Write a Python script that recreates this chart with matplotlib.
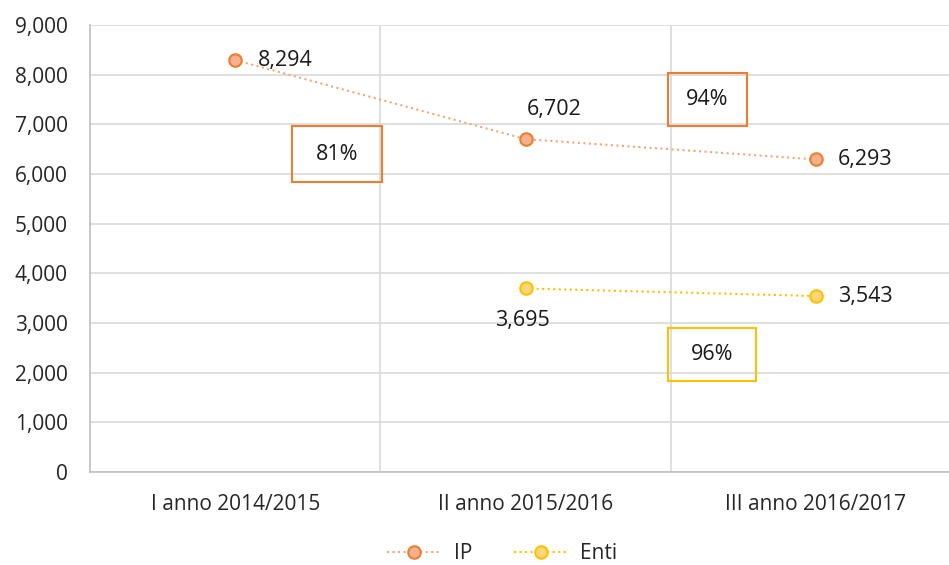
import numpy as np
import matplotlib.pyplot as plt
from matplotlib.patches import Rectangle
from matplotlib.ticker import FuncFormatter

plt.rcParams['font.family'] = ['Open Sans', 'DejaVu Sans']

categories = ['I anno 2014/2015', 'II anno 2015/2016', 'III anno 2016/2017']
ip = [8294, 6702, 6293]
enti = [np.nan, 3695, 3543]
pct_labels = ['81%', '94%', '96%']

fig = plt.figure(figsize=(9.49, 5.65), dpi=100)
ax = fig.add_axes([90 / 949, 93 / 565, 1 - 90 / 949, 447 / 565])

x = np.arange(len(categories))
ax.plot(x, ip, linestyle=':', color='#f4a57a', linewidth=1.5, marker='o',
        markersize=9, markerfacecolor='#f5b08e', markeredgecolor='#ed7d31',
        markeredgewidth=1.5, label='IP', zorder=3)
ax.plot(x, enti, linestyle=':', color='#ffc000', linewidth=1.5, marker='o',
        markersize=9, markerfacecolor='#ffd77a', markeredgecolor='#ffc000',
        markeredgewidth=1.5, label='Enti', zorder=3)

# data labels
fs = 15.5
tc = '#1a1a1a'
ax.annotate(f'{ip[0]:,}', (x[0], ip[0]), xytext=(16, 0), textcoords='offset points',
            ha='left', va='center', fontsize=fs, color=tc)
ax.annotate(f'{ip[1]:,}', (x[1], ip[1]), xytext=(1, 21), textcoords='offset points',
            ha='left', va='center', fontsize=fs, color=tc)
ax.annotate(f'{ip[2]:,}', (x[2], ip[2]), xytext=(16, 0), textcoords='offset points',
            ha='left', va='center', fontsize=fs, color=tc)
ax.annotate(f'{enti[1]:,}', (x[1], enti[1]), xytext=(-2, -23), textcoords='offset points',
            ha='center', va='center', fontsize=fs, color=tc)
ax.annotate(f'{enti[2]:,}', (x[2], enti[2]), xytext=(16, 0), textcoords='offset points',
            ha='left', va='center', fontsize=fs, color=tc)

# percentage boxes
boxes = [((0.196, 5838), 0.310, 1128, '#ed7d31'),
         ((1.489, 6966), 0.275, 1067, '#ed7d31'),
         ((1.492, 1832), 0.300, 1067, '#ffc000')]
for (xy, w, h, c), lab in zip(boxes, pct_labels):
    ax.add_patch(Rectangle(xy, w, h, fill=False, edgecolor=c, linewidth=1.5, zorder=4))
    ax.text(xy[0] + w / 2, xy[1] + h / 2, lab, ha='center', va='center',
            fontsize=fs, color=tc, zorder=5)

ax.set_xlim(-0.5, 2.458)
ax.set_ylim(0, 9000)
ax.set_yticks(np.arange(0, 9001, 1000))
ax.yaxis.set_major_formatter(FuncFormatter(lambda v, p: f'{int(v):,}'))
ax.set_xticks(x)
ax.set_xticklabels(categories)
ax.set_xticks([0.5, 1.5], minor=True)

ax.grid(axis='y', color='#d9d9d9', linewidth=1.2)
ax.grid(axis='x', which='minor', color='#d9d9d9', linewidth=1.2)
ax.set_axisbelow(True)
for s in ['top', 'right']:
    ax.spines[s].set_visible(False)
for s in ['left', 'bottom']:
    ax.spines[s].set_color('#bfbfbf')
    ax.spines[s].set_linewidth(1.2)
ax.tick_params(axis='both', which='both', length=0, labelsize=15, colors='#262626')
ax.tick_params(axis='y', pad=16)
ax.tick_params(axis='x', pad=16)

ax.legend(loc='center', bbox_to_anchor=(0.48, -0.182), ncol=2, frameon=False,
          fontsize=15, handlelength=2.6, handletextpad=0.6, columnspacing=2.0,
          labelcolor='#262626', borderpad=0.2)

fig.savefig('out.png', dpi=100)
